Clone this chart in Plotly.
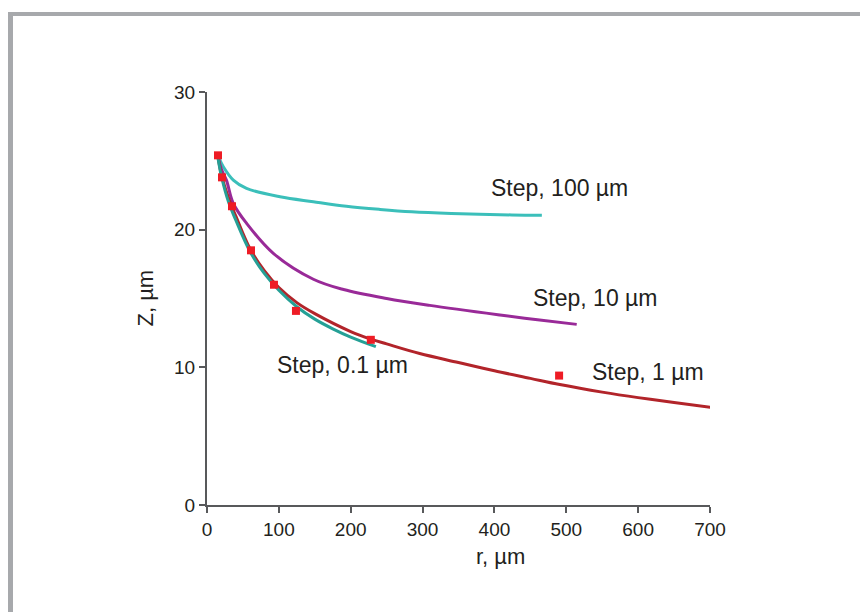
import plotly.graph_objects as go

# ---- data ----
r_100 = [15.8, 22.7, 36.6, 55, 101.6, 148, 194, 240.7, 285, 340, 424, 466]
z_100 = [25.3, 24.57, 23.6, 23.0, 22.39, 22.03, 21.7, 21.47, 21.3, 21.18, 21.07, 21.05]

r_10 = [15.5, 20, 27, 36.6, 55.2, 92.3, 148, 190, 250, 310, 407.7, 460, 514.5]
z_10 = [25.3, 24.4, 23.6, 21.9, 20.45, 18.28, 16.4, 15.65, 15.0, 14.5, 13.8, 13.45, 13.12]

r_1 = [15, 20, 30, 40, 60, 80, 100, 125, 150, 200, 228, 250, 296, 350, 400, 450, 491, 550, 600, 650, 705]
z_1 = [25.4, 24.0, 22.3, 21.0, 18.6, 17.0, 15.8, 14.7, 13.9, 12.6, 12.05, 11.7, 11.0, 10.35, 9.75, 9.2, 8.75, 8.2, 7.8, 7.45, 7.07]

r_01 = [15, 20, 30, 40, 60, 80, 100, 125, 150, 175, 200, 235]
z_01 = [25.3, 23.9, 22.0, 20.7, 18.4, 16.8, 15.6, 14.4, 13.5, 12.8, 12.2, 11.5]

r_pts = [15.3, 20.9, 34.8, 61.2, 93.2, 123.8, 228, 490]
z_pts = [25.4, 23.8, 21.7, 18.5, 16.0, 14.1, 12.0, 9.4]

labels = ["Step, 100 µm", "Step, 10 µm", "Step, 0.1 µm", "Step, 1 µm"]
label_r = [392.4, 450.9, 94.6, 533]
label_z = [23.0, 15.03, 10.17, 9.66]

x_ticks = [0, 100, 200, 300, 400, 500, 600, 700]
y_ticks = [0, 10, 20, 30]

FONT = "Liberation Sans, Arial, sans-serif"

# page has an 8px body margin, so figure pixel = page pixel - 8
L, T, PW, PH = 199, 84, 503, 413


def px(fx):
    return (fx - L) / PW


def py(fy):
    return (T + PH - fy) / PH


fig = go.Figure()
fig.add_trace(go.Scatter(x=r_100, y=z_100, mode="lines", line=dict(color="#3bbfba", width=3), line_shape="spline"))
fig.add_trace(go.Scatter(x=r_10, y=z_10, mode="lines", line=dict(color="#992a98", width=3), line_shape="spline"))
fig.add_trace(go.Scatter(x=r_1, y=z_1, mode="lines", line=dict(color="#b2242a", width=3), line_shape="spline"))
fig.add_trace(go.Scatter(x=r_01, y=z_01, mode="lines", line=dict(color="#25a096", width=3), line_shape="spline"))
fig.add_trace(go.Scatter(x=r_pts, y=z_pts, mode="markers",
                         marker=dict(symbol="square", size=8, color="#ee1c25", line=dict(width=0))))

for t, xr, yz in zip(labels, label_r, label_z):
    fig.add_annotation(x=xr, y=yz, text=t, showarrow=False, xanchor="left", yanchor="middle",
                       font=dict(family=FONT, size=23, color="#231f20"))

# axis titles
fig.add_annotation(x=px(500 - 8), y=py(556 - 8), xref="paper", yref="paper",
                   text="r, µm", showarrow=False, xanchor="center", yanchor="middle",
                   font=dict(family=FONT, size=22, color="#231f20"))
fig.add_annotation(x=px(145 - 8), y=0.5, xref="paper", yref="paper",
                   text="Z, µm", showarrow=False, textangle=-90, xanchor="center", yanchor="middle",
                   font=dict(family=FONT, size=22, color="#231f20"))

# gray frame (top and left edges)
fig.add_shape(type="rect", xref="paper", yref="paper",
              x0=px(0), x1=px(5), y0=py(640), y1=py(4),
              fillcolor="#a7a9ac", line=dict(width=0), layer="below")
fig.add_shape(type="rect", xref="paper", yref="paper",
              x0=px(0), x1=px(900), y0=py(8), y1=py(4),
              fillcolor="#a7a9ac", line=dict(width=0), layer="below")

fig.update_layout(
    width=860, height=604,
    margin=dict(l=L, r=860 - L - PW, t=T, b=604 - T - PH),
    paper_bgcolor="white", plot_bgcolor="white",
    showlegend=False,
    font=dict(family=FONT, size=19, color="#231f20"),
)
fig.update_xaxes(range=[0, 700], tickvals=x_ticks, showgrid=False, zeroline=False,
                 showline=True, linecolor="#58595b", linewidth=2,
                 ticks="outside", ticklen=6, tickwidth=2, tickcolor="#58595b",
                 tickfont=dict(family=FONT, size=19, color="#231f20"))
fig.update_yaxes(range=[0, 30], tickvals=y_ticks, showgrid=False, zeroline=False,
                 showline=True, linecolor="#58595b", linewidth=2,
                 ticks="outside", ticklen=6, tickwidth=2, tickcolor="#58595b",
                 tickfont=dict(family=FONT, size=19, color="#231f20"))

fig.write_html("out.html")
